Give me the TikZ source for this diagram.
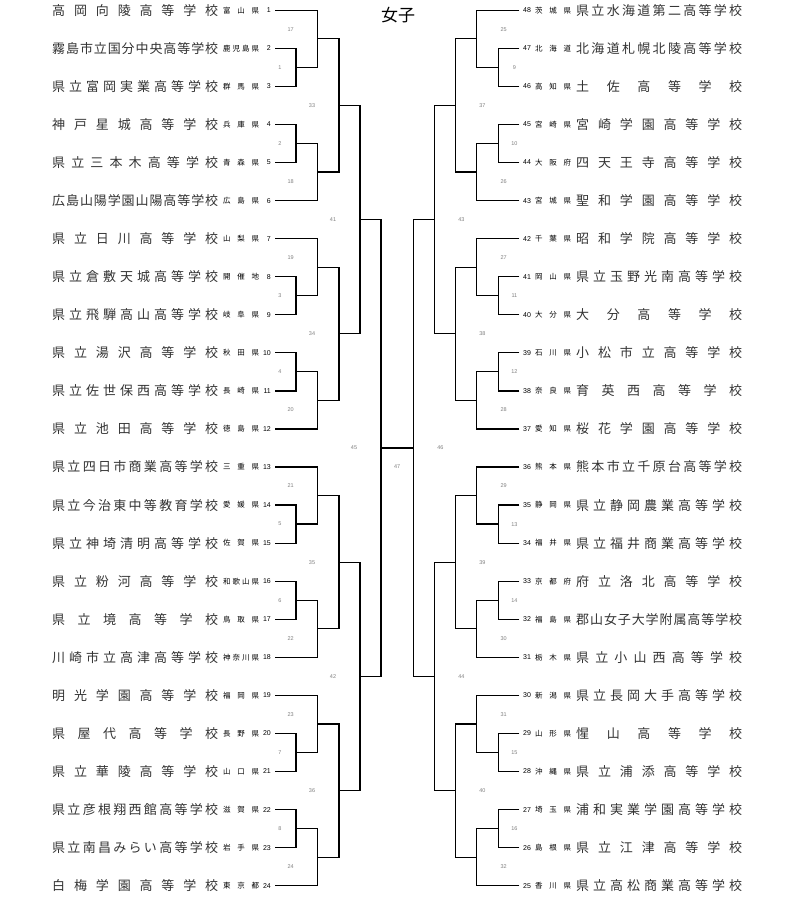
\documentclass[tikz,border=0pt]{standalone}
\usepackage{fontspec}
\newfontfamily\jpfont{Noto Sans CJK JP}
\newfontfamily\latfont{Liberation Sans}
\ExplSyntaxOn
\NewDocumentCommand\spreadbox{mm}{\makebox[#1][s]{\exp_args:No \tl_map_inline:nn {#2}{##1\hfill}\unskip}}
\ExplSyntaxOff
\tikzset{
  bracket/.style={line width=1.25pt, black},
  school/.style={font=\jpfont\fontsize{13}{13}\selectfont, text=black!80, inner sep=0pt},
  pref/.style={font=\jpfont\fontsize{7.5}{7.5}\selectfont, text=black, inner sep=0pt},
  seed/.style={font=\latfont\fontsize{7}{7}\selectfont, text=black, inner sep=0pt},
  matchno/.style={font=\latfont\fontsize{5.5}{5.5}\selectfont, text=black!50, inner sep=0pt},
  titlestyle/.style={font=\jpfont\fontsize{17}{17}\selectfont, inner sep=0pt}
}
\begin{document}
\begin{tikzpicture}[x=1pt,y=-1pt]
\path[use as bounding box, fill=white] (0,0) rectangle (800,907);
\node[titlestyle] (title) at (398,15) {女子};
% left teams
\foreach \t/\nm/\pf in {
1/高岡向陵高等学校/富山県,
2/霧島市立国分中央高等学校/鹿児島県,
3/県立富岡実業高等学校/群馬県,
4/神戸星城高等学校/兵庫県,
5/県立三本木高等学校/青森県,
6/広島山陽学園山陽高等学校/広島県,
7/県立日川高等学校/山梨県,
8/県立倉敷天城高等学校/開催地,
9/県立飛騨高山高等学校/岐阜県,
10/県立湯沢高等学校/秋田県,
11/県立佐世保西高等学校/長崎県,
12/県立池田高等学校/徳島県,
13/県立四日市商業高等学校/三重県,
14/県立今治東中等教育学校/愛媛県,
15/県立神埼清明高等学校/佐賀県,
16/県立粉河高等学校/和歌山県,
17/県立境高等学校/鳥取県,
18/川崎市立高津高等学校/神奈川県,
19/明光学園高等学校/福岡県,
20/県屋代高等学校/長野県,
21/県立華陵高等学校/山口県,
22/県立彦根翔西館高等学校/滋賀県,
23/県立南昌みらい高等学校/岩手県,
24/白梅学園高等学校/東京都}{
  \pgfmathsetmacro\yy{10.3+(\t-1)*38.06}
  \node[school, anchor=west] (n\t) at (52,\yy) {\spreadbox{166pt}{\nm}};
  \node[pref, anchor=west] (f\t) at (223,\yy) {\spreadbox{36pt}{\pf}};
  \node[seed, anchor=east] (s\t) at (271,\yy) {\t};
  \coordinate (p\t) at (275,\yy);
}
% right teams
\foreach \t/\pf/\nm in {
48/茨城県/県立水海道第二高等学校,
47/北海道/北海道札幌北陵高等学校,
46/高知県/土佐高等学校,
45/宮崎県/宮崎学園高等学校,
44/大阪府/四天王寺高等学校,
43/宮城県/聖和学園高等学校,
42/千葉県/昭和学院高等学校,
41/岡山県/県立玉野光南高等学校,
40/大分県/大分高等学校,
39/石川県/小松市立高等学校,
38/奈良県/育英西高等学校,
37/愛知県/桜花学園高等学校,
36/熊本県/熊本市立千原台高等学校,
35/静岡県/県立静岡農業高等学校,
34/福井県/県立福井商業高等学校,
33/京都府/府立洛北高等学校,
32/福島県/郡山女子大学附属高等学校,
31/栃木県/県立小山西高等学校,
30/新潟県/県立長岡大手高等学校,
29/山形県/惺山高等学校,
28/沖縄県/県立浦添高等学校,
27/埼玉県/浦和実業学園高等学校,
26/島根県/県立江津高等学校,
25/香川県/県立高松商業高等学校}{
  \pgfmathsetmacro\yy{10.3+(48-\t)*38.06}
  \node[seed, anchor=west] (s\t) at (523,\yy) {\t};
  \node[pref, anchor=west] (f\t) at (535,\yy) {\spreadbox{36pt}{\pf}};
  \node[school, anchor=west] (n\t) at (576,\yy) {\spreadbox{166pt}{\nm}};
  \coordinate (p\t) at (519.4,\yy);
}
% upper rounds
\coordinate (m41) at (360,219.63);
\coordinate (m42) at (360,676.35);
\coordinate (m43) at (434.4,219.63);
\coordinate (m44) at (434.4,676.35);
\coordinate (m45) at (381,447.99);
\coordinate (m46) at (413.4,447.99);
% left groups
\foreach \g in {0,1,2,3}{
  \pgfmathsetmacro\Y{10.3+228.36*\g}
  \pgfmathtruncatemacro\MA{1+2*\g}
  \pgfmathtruncatemacro\MB{2+2*\g}
  \pgfmathtruncatemacro\MC{17+2*\g}
  \pgfmathtruncatemacro\MD{18+2*\g}
  \pgfmathtruncatemacro\ME{33+\g}
  \pgfmathtruncatemacro\TA{6*\g+1}
  \pgfmathtruncatemacro\TB{6*\g+2}
  \pgfmathtruncatemacro\TC{6*\g+3}
  \pgfmathtruncatemacro\TD{6*\g+4}
  \pgfmathtruncatemacro\TE{6*\g+5}
  \pgfmathtruncatemacro\TF{6*\g+6}
  \coordinate (m\MA) at (296,{\Y+57.09});
  \coordinate (m\MB) at (296,{\Y+133.21});
  \coordinate (m\MC) at (317.7,{\Y+28.545});
  \coordinate (m\MD) at (317.7,{\Y+161.755});
  \coordinate (m\ME) at (339,{\Y+95.15});
  \node[matchno] (l\MA) at (280,{\Y+57.09}) {\MA};
  \node[matchno] (l\MB) at (280,{\Y+133.21}) {\MB};
  \node[matchno] (l\MC) at (290.7,{\Y+19.03}) {\MC};
  \node[matchno] (l\MD) at (290.7,{\Y+171.27}) {\MD};
  \node[matchno] (l\ME) at (312,{\Y+95.15}) {\ME};
  \draw[bracket] (p\TA) -| (m\MC);
  \draw[bracket] (p\TB) -| (m\MA);
  \draw[bracket] (p\TC) -| (m\MA);
  \draw[bracket] (m\MA) -| (m\MC);
  \draw[bracket] (p\TD) -| (m\MB);
  \draw[bracket] (p\TE) -| (m\MB);
  \draw[bracket] (m\MB) -| (m\MD);
  \draw[bracket] (p\TF) -| (m\MD);
  \draw[bracket] (m\MC) -| (m\ME);
  \draw[bracket] (m\MD) -| (m\ME);
}
% right groups
\foreach \g in {0,1,2,3}{
  \pgfmathsetmacro\Y{10.3+228.36*\g}
  \pgfmathtruncatemacro\MA{9+2*\g}
  \pgfmathtruncatemacro\MB{10+2*\g}
  \pgfmathtruncatemacro\MC{25+2*\g}
  \pgfmathtruncatemacro\MD{26+2*\g}
  \pgfmathtruncatemacro\ME{37+\g}
  \pgfmathtruncatemacro\TA{48-6*\g}
  \pgfmathtruncatemacro\TB{47-6*\g}
  \pgfmathtruncatemacro\TC{46-6*\g}
  \pgfmathtruncatemacro\TD{45-6*\g}
  \pgfmathtruncatemacro\TE{44-6*\g}
  \pgfmathtruncatemacro\TF{43-6*\g}
  \coordinate (m\MA) at (498.4,{\Y+57.09});
  \coordinate (m\MB) at (498.4,{\Y+133.21});
  \coordinate (m\MC) at (476.7,{\Y+28.545});
  \coordinate (m\MD) at (476.7,{\Y+161.755});
  \coordinate (m\ME) at (455.4,{\Y+95.15});
  \node[matchno] (l\MA) at (514.4,{\Y+57.09}) {\MA};
  \node[matchno] (l\MB) at (514.4,{\Y+133.21}) {\MB};
  \node[matchno] (l\MC) at (503.7,{\Y+19.03}) {\MC};
  \node[matchno] (l\MD) at (503.7,{\Y+171.27}) {\MD};
  \node[matchno] (l\ME) at (482.4,{\Y+95.15}) {\ME};
  \draw[bracket] (p\TA) -| (m\MC);
  \draw[bracket] (p\TB) -| (m\MA);
  \draw[bracket] (p\TC) -| (m\MA);
  \draw[bracket] (m\MA) -| (m\MC);
  \draw[bracket] (p\TD) -| (m\MB);
  \draw[bracket] (p\TE) -| (m\MB);
  \draw[bracket] (m\MB) -| (m\MD);
  \draw[bracket] (p\TF) -| (m\MD);
  \draw[bracket] (m\MC) -| (m\ME);
  \draw[bracket] (m\MD) -| (m\ME);
}
\draw[bracket] (m33) -| (m41);
\draw[bracket] (m34) -| (m41);
\draw[bracket] (m35) -| (m42);
\draw[bracket] (m36) -| (m42);
\draw[bracket] (m37) -| (m43);
\draw[bracket] (m38) -| (m43);
\draw[bracket] (m39) -| (m44);
\draw[bracket] (m40) -| (m44);
\draw[bracket] (m41) -| (m45);
\draw[bracket] (m42) -| (m45);
\draw[bracket] (m43) -| (m46);
\draw[bracket] (m44) -| (m46);
\draw[bracket] (m45) -- (m46);
\node[matchno] (l41) at (333,219.63) {41};
\node[matchno] (l42) at (333,676.35) {42};
\node[matchno] (l43) at (461.4,219.63) {43};
\node[matchno] (l44) at (461.4,676.35) {44};
\node[matchno] (l45) at (354,447.99) {45};
\node[matchno] (l46) at (440.4,447.99) {46};
\node[matchno] (l47) at (397.2,467) {47};
\end{tikzpicture}
\end{document}
